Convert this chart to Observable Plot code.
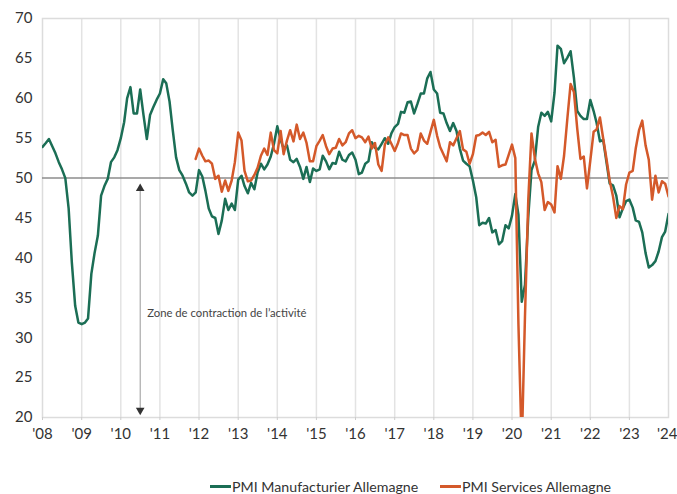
<!DOCTYPE html>
<html>
<head>
<meta charset="utf-8">
<script src="https://cdn.jsdelivr.net/npm/d3@7"></script>
<script src="https://cdn.jsdelivr.net/npm/@observablehq/plot@0.6"></script>
<style>
  body { margin: 0; background: #fff; font-family: Lato, sans-serif; }
  #wrap { position: relative; width: 677px; height: 494px; overflow: hidden; }
  .leg { position: absolute; top: 476px; height: 20px; display: flex; align-items: center; font-size: 14.2px; color: #333; white-space: nowrap; }
  .sw { display: inline-block; width: 21px; height: 3px; margin-right: 1px; }
</style>
</head>
<body>
<div id="wrap">
  <div id="chart"></div>
  <div class="leg" style="left:210px"><span class="sw" style="background:#1b6e55"></span>PMI Manufacturier Allemagne</div>
  <div class="leg" style="left:440px"><span class="sw" style="background:#d4592a"></span>PMI Services Allemagne</div>
</div>
<script>
// Monthly values, Germany manufacturing PMI from Jan 2008
const manufStart = "2008-01-01";
const manufacturing = [
  53.9, 54.4, 54.9, 54.0, 53.1, 52.0, 51.1, 50.0, 46.2, 39.4, 34.0, 31.9, // 2008
  31.7, 31.9, 32.4, 38.0, 40.6, 42.8, 47.8, 49.0, 49.9, 52.0, 52.6, 53.5, // 2009
  55.0, 57.0, 60.0, 61.4, 58.1, 58.1, 61.1, 57.9, 54.9, 57.9, 58.9, 59.8, // 2010
  60.6, 62.4, 61.9, 59.6, 56.0, 52.6, 51.0, 50.3, 49.3, 48.2, 47.8, 48.2, // 2011
  51.0, 50.2, 48.4, 46.2, 45.2, 45.0, 43.0, 44.7, 47.4, 46.0, 46.8, 46.0, // 2012
  49.8, 50.3, 49.0, 48.1, 49.4, 48.6, 50.7, 51.8, 51.1, 51.7, 52.7, 54.3, // 2013
  56.5, 54.8, 53.7, 54.1, 52.3, 52.0, 52.4, 51.4, 49.9, 51.4, 49.5, 51.2, // 2014
  50.9, 51.1, 52.8, 52.1, 51.1, 51.9, 51.8, 53.3, 52.3, 52.1, 52.9, 53.2, // 2015
  52.3, 50.5, 50.7, 51.8, 52.1, 54.5, 53.8, 53.6, 54.3, 55.0, 54.3, 55.6, // 2016
  56.4, 56.8, 58.3, 58.2, 59.5, 59.6, 58.1, 59.3, 60.6, 60.6, 62.5, 63.3, // 2017
  61.1, 60.6, 58.2, 58.1, 56.9, 55.9, 56.9, 55.9, 53.7, 52.2, 51.8, 51.5, // 2018
  49.7, 47.6, 44.1, 44.4, 44.3, 45.0, 43.2, 43.5, 41.7, 42.1, 44.1, 43.7, // 2019
  45.3, 48.0, 45.4, 34.5, 36.6, 45.2, 51.0, 52.2, 56.4, 58.2, 57.8, 58.3, // 2020
  57.1, 60.7, 66.6, 66.2, 64.4, 65.1, 65.9, 62.6, 58.4, 57.8, 57.4, 57.4, // 2021
  59.8, 58.4, 56.9, 54.6, 54.8, 52.0, 49.3, 49.1, 47.8, 45.1, 46.2, 47.1, // 2022
  47.3, 46.3, 44.7, 44.5, 43.2, 40.6, 38.8, 39.1, 39.6, 40.8, 42.6, 43.3, // 2023
  45.5                                                                     // 2024
];

// Monthly values, Germany services PMI from Dec 2011
const servicesStart = "2011-12-01";
const services = [
  52.4,
  53.7, 52.8, 52.1, 52.2, 51.8, 49.9, 50.3, 48.3, 49.7, 48.4, 49.7, 52.0, // 2012
  55.7, 54.7, 50.9, 49.6, 49.7, 50.4, 51.3, 52.8, 53.7, 52.9, 55.7, 53.5, // 2013
  53.1, 55.9, 53.0, 54.7, 56.0, 54.6, 56.7, 54.9, 55.7, 54.4, 52.1, 52.1, // 2014
  54.0, 54.7, 55.4, 54.0, 53.0, 53.7, 53.8, 54.9, 54.1, 54.5, 55.6, 56.0, // 2015
  55.0, 55.3, 55.1, 54.5, 55.2, 53.7, 54.4, 51.7, 50.9, 54.2, 55.1, 54.3, // 2016
  53.4, 54.4, 55.6, 55.4, 55.4, 53.7, 53.1, 53.5, 55.6, 54.7, 54.3, 55.8, // 2017
  57.3, 55.3, 53.9, 53.0, 52.1, 54.5, 54.1, 55.0, 55.9, 53.6, 53.3, 51.8, // 2018
  53.0, 55.3, 55.4, 55.7, 55.4, 55.8, 54.5, 54.8, 51.4, 51.6, 51.7, 52.9, // 2019
  54.2, 52.5, 31.7, 16.2, 32.6, 47.3, 55.6, 52.5, 50.6, 49.5, 46.0, 47.0, // 2020
  46.7, 45.7, 51.5, 49.9, 52.8, 57.5, 61.8, 60.8, 56.2, 52.4, 52.7, 48.7, // 2021
  52.2, 55.8, 56.1, 57.6, 55.0, 52.4, 49.7, 47.7, 45.0, 46.5, 46.1, 49.2, // 2022
  50.7, 50.9, 53.7, 56.0, 57.2, 54.1, 52.3, 47.3, 50.3, 48.2, 49.6, 49.3, // 2023
  47.7                                                                     // 2024
];

const yTicks = [20, 25, 30, 35, 40, 45, 50, 55, 60, 65, 70];
const years = d3.range(2008, 2025);
const annotationText = "Zone de contraction de l\u2019activité";

const toSeries = (start, values) => {
  const s = new Date(start + "T00:00:00Z");
  return values.map((v, i) => ({ date: d3.utcMonth.offset(s, i), value: v }));
};
const manufData = toSeries(manufStart, manufacturing);
const servData = toSeries(servicesStart, services);
const yearDates = years.map(y => new Date(Date.UTC(y, 0, 1)));
const arrowX = new Date(Date.UTC(2010, 6, 1));
const fmtYear = d => "'" + String(d.getUTCFullYear()).slice(2);

const chart = Plot.plot({
  width: 677,
  height: 460,
  marginLeft: 42,
  marginRight: 9,
  marginTop: 18,
  marginBottom: 43,
  style: { fontFamily: "Lato, sans-serif", fontSize: "15px", color: "#333", background: "#fff" },
  x: {
    type: "utc",
    domain: [yearDates[0], yearDates[yearDates.length - 1]],
    label: null
  },
  y: { domain: [20, 70], ticks: yTicks, tickSize: 0, tickPadding: 10, label: null },
  marks: [
    Plot.ruleX(yearDates.slice(1, -1), { stroke: "#e3e3e3", strokeWidth: 1.5 }),
    Plot.frame({ stroke: "#dcdcdc", strokeWidth: 1.5 }),
    Plot.axisX(yearDates.slice(0, -1), { tickSize: 3, tickPadding: 8, tickFormat: fmtYear, stroke: "#ccc", label: null }),
    Plot.axisX(yearDates.slice(-1), { tickSize: 3, tickPadding: 8, tickFormat: fmtYear, stroke: "#ccc", label: null, textAnchor: "end", dx: 9 }),
    Plot.ruleY([50], { stroke: "#8c8c8c", strokeWidth: 1.5 }),
    Plot.ruleX([arrowX], { y1: 20.6, y2: 48.6, stroke: "#999", strokeWidth: 1 }),
    Plot.dot([{ x: arrowX, y: 48.7 }], { x: "x", y: "y", symbol: "triangle", r: 3.2, fill: "#333", stroke: null }),
    Plot.dot([{ x: arrowX, y: 20.9 }], { x: "x", y: "y", symbol: "triangle", r: 3.2, fill: "#333", stroke: null, rotate: 180 }),
    Plot.text([{ x: arrowX, y: 33 }], { x: "x", y: "y", text: () => annotationText, dx: 7, textAnchor: "start", fontSize: 11.3, fill: "#444" }),
    Plot.line(manufData, { x: "date", y: "value", stroke: "#1b6e55", strokeWidth: 2.5, clip: true }),
    Plot.line(servData, { x: "date", y: "value", stroke: "#d4592a", strokeWidth: 2.5, clip: true })
  ]
});
document.getElementById("chart").appendChild(chart);
</script>
</body>
</html>
